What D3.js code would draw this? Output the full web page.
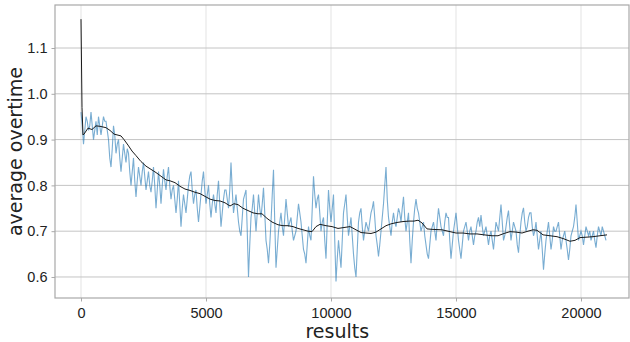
<!DOCTYPE html>
<html>
<head>
<meta charset="utf-8">
<script src="https://cdn.jsdelivr.net/npm/d3@7"></script>
<style>
  html, body { margin: 0; padding: 0; background: #fff; }
  svg { display: block; font-family: "DejaVu Sans", sans-serif; }
</style>
</head>
<body>
<svg id="chart" width="630" height="342"></svg>
<script>
// raw series, one value every 50 results
var resultStep = 50;
var rawValues = [
  0.96, 0.93, 0.89, 0.92, 0.95, 0.94, 0.92, 0.93, 0.96, 0.93, 0.90, 0.92, 0.94, 0.91, 0.95, 0.93, 0.91, 0.93, 0.95, 0.94,
  0.94, 0.92, 0.90, 0.86, 0.84, 0.88, 0.93, 0.91, 0.87, 0.89, 0.90, 0.86, 0.83, 0.86, 0.89, 0.87, 0.85, 0.88, 0.87, 0.83,
  0.80, 0.83, 0.86, 0.81, 0.775, 0.81, 0.84, 0.82, 0.80, 0.83, 0.85, 0.82, 0.79, 0.81, 0.83, 0.80, 0.785, 0.81, 0.84, 0.80,
  0.75, 0.79, 0.83, 0.80, 0.76, 0.80, 0.835, 0.81, 0.79, 0.82, 0.84, 0.80, 0.77, 0.79, 0.80, 0.77, 0.74, 0.77, 0.81, 0.76,
  0.71, 0.75, 0.78, 0.76, 0.74, 0.77, 0.80, 0.82, 0.83, 0.79, 0.76, 0.78, 0.79, 0.75, 0.72, 0.75, 0.78, 0.81, 0.83, 0.79,
  0.76, 0.78, 0.80, 0.76, 0.73, 0.76, 0.78, 0.76, 0.74, 0.78, 0.81, 0.76, 0.71, 0.74, 0.77, 0.79, 0.79, 0.77, 0.75, 0.79,
  0.85, 0.79, 0.74, 0.76, 0.78, 0.75, 0.72, 0.70, 0.69, 0.73, 0.77, 0.78, 0.79, 0.70, 0.60, 0.67, 0.73, 0.75, 0.78, 0.74,
  0.70, 0.74, 0.78, 0.75, 0.73, 0.76, 0.795, 0.74, 0.68, 0.66, 0.63, 0.67, 0.72, 0.78, 0.834, 0.72, 0.62, 0.66, 0.70, 0.72,
  0.74, 0.71, 0.69, 0.73, 0.77, 0.74, 0.71, 0.72, 0.73, 0.70, 0.68, 0.69, 0.70, 0.73, 0.76, 0.74, 0.72, 0.69, 0.66, 0.65,
  0.63, 0.67, 0.71, 0.69, 0.68, 0.75, 0.82, 0.78, 0.75, 0.77, 0.78, 0.74, 0.70, 0.72, 0.73, 0.68, 0.64, 0.72, 0.79, 0.75,
  0.72, 0.75, 0.78, 0.68, 0.59, 0.64, 0.68, 0.65, 0.62, 0.68, 0.74, 0.76, 0.78, 0.73, 0.69, 0.71, 0.73, 0.69, 0.65, 0.62,
  0.60, 0.66, 0.72, 0.74, 0.75, 0.71, 0.68, 0.70, 0.72, 0.71, 0.70, 0.72, 0.74, 0.75, 0.765, 0.73, 0.69, 0.67, 0.645, 0.67,
  0.70, 0.73, 0.76, 0.80, 0.84, 0.77, 0.73, 0.71, 0.69, 0.72, 0.74, 0.72, 0.71, 0.73, 0.75, 0.74, 0.72, 0.75, 0.775, 0.73,
  0.70, 0.72, 0.74, 0.68, 0.63, 0.68, 0.72, 0.75, 0.77, 0.75, 0.74, 0.72, 0.70, 0.71, 0.72, 0.69, 0.67, 0.65, 0.64, 0.67,
  0.70, 0.71, 0.72, 0.70, 0.68, 0.72, 0.75, 0.73, 0.71, 0.70, 0.69, 0.72, 0.74, 0.73, 0.73, 0.68, 0.64, 0.67, 0.70, 0.72,
  0.74, 0.71, 0.68, 0.66, 0.64, 0.67, 0.70, 0.71, 0.72, 0.70, 0.68, 0.70, 0.71, 0.69, 0.67, 0.69, 0.70, 0.72, 0.73, 0.71,
  0.735, 0.71, 0.69, 0.70, 0.71, 0.69, 0.67, 0.69, 0.70, 0.68, 0.66, 0.69, 0.72, 0.71, 0.70, 0.73, 0.758, 0.72, 0.68, 0.69,
  0.71, 0.73, 0.745, 0.71, 0.68, 0.70, 0.72, 0.71, 0.70, 0.67, 0.653, 0.69, 0.72, 0.74, 0.751, 0.72, 0.70, 0.71, 0.73, 0.74,
  0.74, 0.71, 0.69, 0.70, 0.72, 0.69, 0.66, 0.68, 0.70, 0.66, 0.616, 0.65, 0.68, 0.70, 0.72, 0.69, 0.66, 0.68, 0.71, 0.70,
  0.70, 0.71, 0.72, 0.69, 0.66, 0.68, 0.69, 0.70, 0.68, 0.66, 0.637, 0.66, 0.69, 0.70, 0.71, 0.73, 0.758, 0.72, 0.68, 0.69,
  0.70, 0.69, 0.67, 0.69, 0.71, 0.70, 0.69, 0.70, 0.68, 0.69, 0.70, 0.68, 0.664, 0.69, 0.71, 0.70, 0.69, 0.71, 0.70, 0.69,
  0.68
];

// running average
var smoothX = [
  0, 40, 80, 120, 280, 440, 600, 760, 1000, 1160, 1320, 1600, 1720, 1880,
  2040, 2200, 2400, 2600, 2800, 3000, 3200, 3400, 3560, 3760, 3960, 4160,
  4360, 4560, 4760, 4960, 5160, 5360, 5560, 5760, 5960, 6120, 6280, 6480,
  6680, 6880, 7080, 7240, 7440, 7640, 7880, 8080, 8280, 8480, 8680, 8880,
  9080, 9240, 9400, 9560, 9800, 10040, 10280, 10520, 10760, 11000, 11200,
  11400, 11600, 11800, 12000, 12200, 12400, 12640, 12880, 13120, 13320,
  13480, 13640, 13840, 14040, 14440, 14760, 15000, 15280, 15560, 15840,
  16120, 16440, 16680, 16920, 17160, 17400, 17640, 17880, 18080, 18240,
  18480, 18760, 19040, 19280, 19560, 19760, 19960, 20240, 20480, 20760, 21040
];
var smoothY = [
  1.163, 0.97, 0.91, 0.912, 0.925, 0.922, 0.93, 0.929, 0.926, 0.92, 0.912,
  0.908, 0.90, 0.888, 0.875, 0.865, 0.852, 0.842, 0.835, 0.828, 0.82, 0.812,
  0.81, 0.806, 0.798, 0.792, 0.789, 0.785, 0.782, 0.776, 0.77, 0.767, 0.766,
  0.762, 0.755, 0.76, 0.758, 0.75, 0.745, 0.74, 0.738, 0.738, 0.728, 0.72,
  0.714, 0.712, 0.712, 0.71, 0.706, 0.703, 0.70, 0.699, 0.71, 0.715, 0.712,
  0.71, 0.706, 0.708, 0.71, 0.703, 0.697, 0.696, 0.695, 0.698, 0.705, 0.712,
  0.716, 0.719, 0.721, 0.722, 0.722, 0.724, 0.718, 0.705, 0.704, 0.703,
  0.699, 0.696, 0.696, 0.694, 0.694, 0.692, 0.69, 0.69, 0.695, 0.699, 0.698,
  0.696, 0.70, 0.703, 0.702, 0.692, 0.69, 0.688, 0.684, 0.678, 0.68, 0.686,
  0.687, 0.688, 0.69, 0.692
];

var xTicks = [0, 5000, 10000, 15000, 20000];
var yTicks = [0.6, 0.7, 0.8, 0.9, 1.0, 1.1];

var margin = { top: 5, right: 1, bottom: 44, left: 55 };
var svg = d3.select('#chart');
var width = +svg.attr('width') - margin.left - margin.right;
var height = +svg.attr('height') - margin.top - margin.bottom;

var x = d3.scaleLinear().domain([-1040, 21920]).range([0, width]);
var y = d3.scaleLinear().domain([0.5541, 1.1939]).range([height, 0]);

var g = svg.append('g')
  .attr('transform', 'translate(' + margin.left + ',' + margin.top + ')');

// grid
g.append('g').selectAll('line').data(xTicks).enter().append('line')
  .attr('x1', function (d) { return x(d); })
  .attr('x2', function (d) { return x(d); })
  .attr('y1', 0).attr('y2', height)
  .attr('stroke', '#e3e3e3').attr('stroke-width', 1);

g.append('g').selectAll('line').data(yTicks).enter().append('line')
  .attr('x1', 0).attr('x2', width)
  .attr('y1', function (d) { return y(d); })
  .attr('y2', function (d) { return y(d); })
  .attr('stroke', '#c4c4c4').attr('stroke-width', 1);

var rawLine = d3.line()
  .x(function (d, i) { return x(i * resultStep); })
  .y(function (d) { return y(d); });

g.append('path')
  .datum(rawValues)
  .attr('d', rawLine)
  .attr('fill', 'none')
  .attr('stroke', '#1f77b4')
  .attr('stroke-opacity', 0.6)
  .attr('stroke-width', 1.1);

var smoothLine = d3.line()
  .x(function (d, i) { return x(smoothX[i]); })
  .y(function (d) { return y(d); });

g.append('path')
  .datum(smoothY)
  .attr('d', smoothLine)
  .attr('fill', 'none')
  .attr('stroke', '#1a1a1a')
  .attr('stroke-width', 1);

// axes
var xAxis = d3.axisBottom(x).tickValues(xTicks).tickFormat(d3.format('d')).tickSize(3.5).tickPadding(6);
var yAxis = d3.axisLeft(y).tickValues(yTicks).tickFormat(d3.format('.1f')).tickSize(3.5).tickPadding(4);

var gx = g.append('g').attr('transform', 'translate(0,' + height + ')').call(xAxis);
var gy = g.append('g').call(yAxis);

[gx, gy].forEach(function (ax) {
  ax.select('.domain').remove();
  ax.selectAll('line').attr('stroke', '#aaa');
  ax.selectAll('text').attr('fill', '#222').style('font-size', '14.5px');
});

// frame
g.append('rect')
  .attr('width', width).attr('height', height)
  .attr('fill', 'none').attr('stroke', '#a8a8a8').attr('stroke-width', 1.2);

svg.append('text')
  .attr('x', margin.left + x(10250)).attr('y', 338)
  .attr('text-anchor', 'middle')
  .style('font-size', '19px').attr('fill', '#222')
  .text('results');

svg.append('text')
  .attr('transform', 'translate(22,' + (margin.top + height / 2) + ')rotate(-90)')
  .attr('text-anchor', 'middle')
  .style('font-size', '19px').attr('fill', '#222')
  .text('average overtime');
</script>
</body>
</html>
